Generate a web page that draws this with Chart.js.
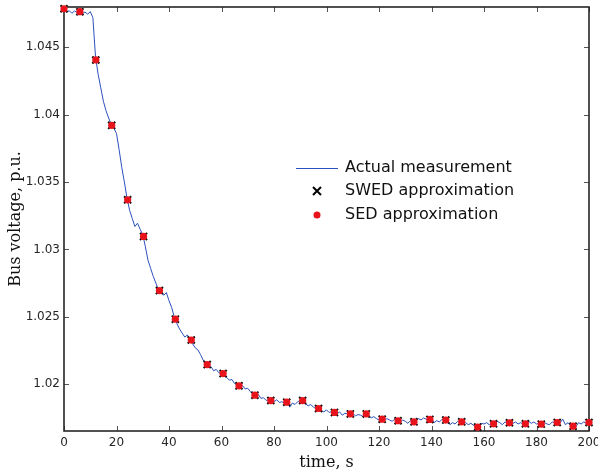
<!DOCTYPE html>
<html lang="en">
<head>
  <meta charset="utf-8">
  <title>Bus voltage</title>
  <style>
    body { margin: 0; background: #ffffff; }
    canvas { display: block; }
  </style>
  <script src="https://cdn.jsdelivr.net/npm/chart.js"></script>
</head>
<body>
  <canvas id="chart" width="598" height="474"></canvas>
  <script>
    // measured curve, one sample per second
    const measTime = [
      0,1,2,3,4,5,6,7,8,9,10,11,12,13,14,15,16,17,18,19,
      20,21,22,23,24,25,26,27,28,29,30,31,32,33,34,35,36,37,38,39,
      40,41,42,43,44,45,46,47,48,49,50,51,52,53,54,55,56,57,58,59,
      60,61,62,63,64,65,66,67,68,69,70,71,72,73,74,75,76,77,78,79,
      80,81,82,83,84,85,86,87,88,89,90,91,92,93,94,95,96,97,98,99,
      100,101,102,103,104,105,106,107,108,109,110,111,112,113,114,115,116,117,118,119,
      120,121,122,123,124,125,126,127,128,129,130,131,132,133,134,135,136,137,138,139,
      140,141,142,143,144,145,146,147,148,149,150,151,152,153,154,155,156,157,158,159,
      160,161,162,163,164,165,166,167,168,169,170,171,172,173,174,175,176,177,178,179,
      180,181,182,183,184,185,186,187,188,189,190,191,192,193,194,195,196,197,198,199,
      200
    ];
    const measVolt = [
      1.04778,1.04760,1.04772,1.04752,1.04770,1.04758,1.04768,1.04750,1.04762,1.04745,
      1.04765,1.04720,1.04430,1.04300,1.04200,1.04100,1.04030,1.03975,1.03930,1.03900,
      1.03860,1.03740,1.03610,1.03500,1.03380,1.03290,1.03230,1.03170,1.03195,1.03150,
      1.03110,1.03020,1.02920,1.02860,1.02800,1.02750,1.02700,1.02690,1.02660,1.02680,
      1.02620,1.02570,1.02500,1.02450,1.02410,1.02380,1.02350,1.02365,1.02330,1.02300,
      1.02270,1.02255,1.02220,1.02180,1.02150,1.02125,1.02130,1.02100,1.02110,1.02085,
      1.02080,1.02060,1.02050,1.02030,1.02035,1.02005,1.01995,1.01985,1.01990,1.01965,
      1.01970,1.01945,1.01925,1.01915,1.01925,1.01895,1.01900,1.01880,1.01885,1.01880,
      1.01870,1.01885,1.01865,1.01870,1.01860,1.01875,1.01830,1.01860,1.01850,1.01870,
      1.01880,1.01870,1.01855,1.01840,1.01850,1.01830,1.01820,1.01825,1.01805,1.01795,
      1.01810,1.01790,1.01800,1.01790,1.01780,1.01795,1.01770,1.01785,1.01780,1.01775,
      1.01785,1.01765,1.01775,1.01770,1.01760,1.01780,1.01770,1.01750,1.01760,1.01745,
      1.01735,1.01740,1.01730,1.01745,1.01735,1.01725,1.01740,1.01725,1.01715,1.01735,
      1.01725,1.01710,1.01730,1.01720,1.01725,1.01745,1.01735,1.01750,1.01740,1.01730,
      1.01745,1.01715,1.01730,1.01720,1.01740,1.01730,1.01745,1.01700,1.01715,1.01705,
      1.01725,1.01720,1.01705,1.01715,1.01700,1.01710,1.01695,1.01685,1.01690,1.01710,
      1.01705,1.01715,1.01700,1.01710,1.01690,1.01725,1.01715,1.01700,1.01720,1.01715,
      1.01730,1.01710,1.01720,1.01705,1.01715,1.01700,1.01715,1.01725,1.01710,1.01720,
      1.01705,1.01710,1.01700,1.01715,1.01705,1.01700,1.01720,1.01715,1.01730,1.01715,
      1.01740,1.01700,1.01715,1.01690,1.01700,1.01685,1.01715,1.01705,1.01720,1.01710,
      1.01715
    ];

    // approximation points
    const approxTime = [
      0, 6.06, 12.12, 18.18, 24.24, 30.30, 36.36, 42.42, 48.48, 54.55,
      60.61, 66.67, 72.73, 78.79, 84.85, 90.91, 96.97, 103.03, 109.09, 115.15,
      121.21, 127.27, 133.33, 139.39, 145.45, 151.52, 157.58, 163.64, 169.70, 175.76,
      181.82, 187.88, 193.94, 200
    ];
    const swedVolt = [
      1.04786, 1.04764, 1.04406, 1.03921, 1.03368, 1.03097, 1.02695, 1.02483, 1.02328, 1.02146,
      1.02079, 1.01988, 1.01919, 1.01879, 1.01867, 1.01879, 1.01820, 1.01791, 1.01780, 1.01780,
      1.01741, 1.01729, 1.01721, 1.01739, 1.01734, 1.01721, 1.01682, 1.01706, 1.01714, 1.01706,
      1.01704, 1.01716, 1.01689, 1.01716
    ];
    const sedVolt = [
      1.04786, 1.04764, 1.04406, 1.03921, 1.03368, 1.03097, 1.02695, 1.02483, 1.02328, 1.02146,
      1.02079, 1.01988, 1.01919, 1.01879, 1.01867, 1.01879, 1.01820, 1.01791, 1.01780, 1.01780,
      1.01741, 1.01729, 1.01721, 1.01739, 1.01734, 1.01721, 1.01682, 1.01706, 1.01714, 1.01706,
      1.01704, 1.01716, 1.01689, 1.01716
    ];

    const xTicks = [0, 20, 40, 60, 80, 100, 120, 140, 160, 180, 200];
    const yTicks = [1.02, 1.025, 1.03, 1.035, 1.04, 1.045];
    const seriesNames = ['Actual measurement', 'SWED approximation', 'SED approximation'];

    const toXY = (xs, ys) => xs.map((x, i) => ({x: x, y: ys[i]}));
    const axisColor = '#262626';
    const lineBlue = '#2c50bd';

    // matlab style box with inward ticks on all four sides
    const frame = {
      id: 'frame',
      beforeDatasetsDraw(chart) {
        const {ctx, chartArea: a, scales: {x, y}} = chart;
        ctx.save();
        ctx.strokeStyle = '#555';
        ctx.lineWidth = 1;
        ctx.beginPath();
        xTicks.forEach(v => {
          const p = Math.round(x.getPixelForValue(v)) + 0.5;
          ctx.moveTo(p, a.bottom); ctx.lineTo(p, a.bottom - 5);
          ctx.moveTo(p, a.top); ctx.lineTo(p, a.top + 5);
        });
        yTicks.forEach(v => {
          const p = Math.round(y.getPixelForValue(v)) + 0.5;
          ctx.moveTo(a.left, p); ctx.lineTo(a.left + 5, p);
          ctx.moveTo(a.right, p); ctx.lineTo(a.right - 5, p);
        });
        ctx.stroke();
        ctx.strokeStyle = axisColor;
        ctx.lineWidth = 1.6;
        ctx.strokeRect(a.left, a.top, a.width, a.height);
        ctx.restore();
      }
    };

    const legendBox = {
      id: 'legendBox',
      afterDraw(chart) {
        const ctx = chart.ctx;
        ctx.save();
        ctx.font = '16px "DejaVu Sans"';
        ctx.fillStyle = '#111';
        ctx.textBaseline = 'middle';
        ctx.fillText(seriesNames[0], 345, 168);
        ctx.fillText(seriesNames[1], 345, 191);
        ctx.fillText(seriesNames[2], 345, 215);
        ctx.strokeStyle = lineBlue;
        ctx.lineWidth = 1;
        ctx.beginPath(); ctx.moveTo(296, 168.5); ctx.lineTo(338, 168.5); ctx.stroke();
        ctx.strokeStyle = '#000';
        ctx.lineWidth = 2;
        ctx.beginPath();
        ctx.moveTo(313, 187); ctx.lineTo(321, 195);
        ctx.moveTo(321, 187); ctx.lineTo(313, 195);
        ctx.stroke();
        ctx.fillStyle = '#e8141c';
        ctx.beginPath(); ctx.arc(317, 215, 3.5, 0, Math.PI * 2); ctx.fill();
        ctx.restore();
      }
    };

    new Chart(document.getElementById('chart'), {
      type: 'scatter',
      data: {
        datasets: [
          {
            label: seriesNames[0], data: toXY(measTime, measVolt), showLine: true,
            borderColor: lineBlue, borderWidth: 1, pointRadius: 0, tension: 0, order: 3
          },
          {
            label: seriesNames[1], data: toXY(approxTime, swedVolt), pointStyle: 'crossRot',
            pointRadius: 5, borderColor: '#111', borderWidth: 2, clip: false, order: 2
          },
          {
            label: seriesNames[2], data: toXY(approxTime, sedVolt), pointStyle: 'circle',
            pointRadius: 3.6, backgroundColor: '#e8141c', borderColor: '#e8141c', borderWidth: 0,
            clip: false, order: 1
          }
        ]
      },
      options: {
        responsive: false,
        animation: false,
        layout: {padding: {top: 5, right: 9, left: 0, bottom: 0}},
        plugins: {legend: {display: false}, tooltip: {enabled: false}},
        scales: {
          x: {
            type: 'linear', min: 0, max: 200,
            afterBuildTicks: s => { s.ticks = xTicks.map(v => ({value: v})); },
            afterFit: s => { s.height = 43; s.paddingLeft = 0; s.paddingRight = 0; },
            grid: {display: false, drawTicks: false}, border: {display: false},
            ticks: {padding: 5, maxRotation: 0, autoSkip: false, color: axisColor,
                    font: {family: 'DejaVu Sans', size: 12}},
            title: {display: true, text: 'time, s', color: '#111', padding: {top: 0, bottom: 2},
                    font: {family: 'DejaVu Serif', size: 16}}
          },
          y: {
            type: 'linear', min: 1.01653, max: 1.04799,
            afterBuildTicks: s => { s.ticks = yTicks.map(v => ({value: v})); },
            afterFit: s => { s.width = 64; s.paddingTop = 0; s.paddingBottom = 0; },
            grid: {display: false, drawTicks: false}, border: {display: false},
            ticks: {padding: 4, autoSkip: false, color: axisColor,
                    font: {family: 'DejaVu Sans', size: 12},
                    callback: v => String(+v.toFixed(3))},
            title: {display: true, text: 'Bus voltage, p.u.', color: '#111', padding: {top: 6, bottom: 0},
                    font: {family: 'DejaVu Serif', size: 16}}
          }
        }
      },
      plugins: [frame, legendBox]
    });
  </script>
</body>
</html>
